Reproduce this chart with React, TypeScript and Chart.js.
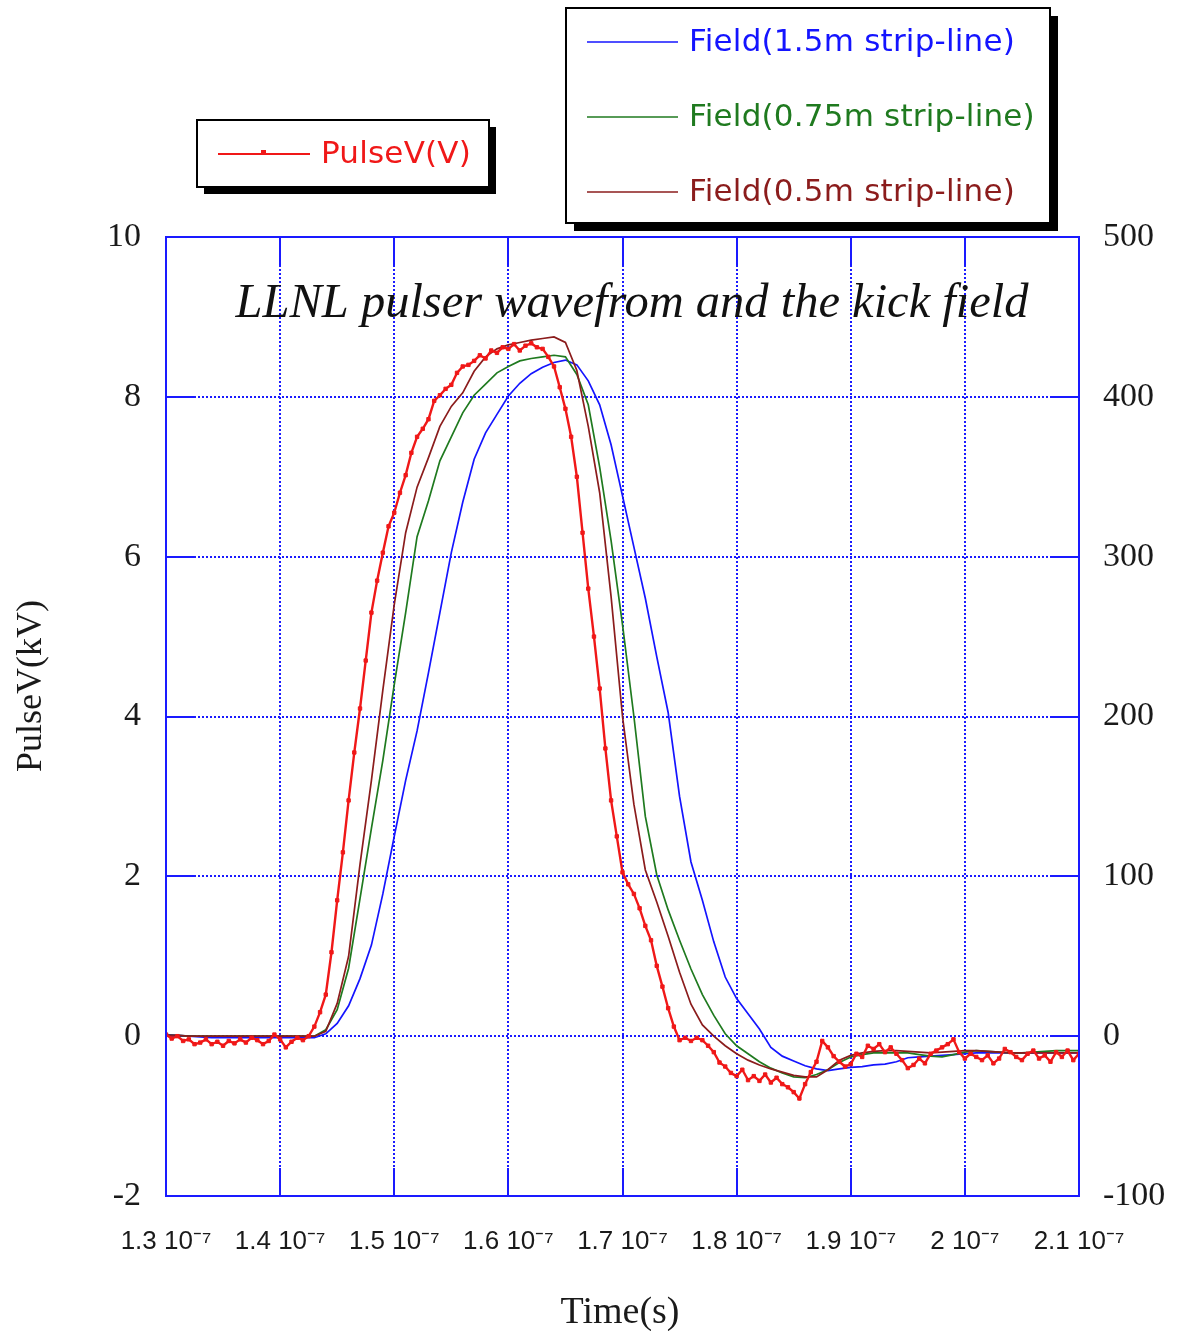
import { useEffect, useRef } from "react";
import { Chart, registerables } from "chart.js";

Chart.register(...registerables);

const CANVAS_W = 1178;
const CANVAS_H = 1331;

// Oscilloscope record of the pulser output, kV, sampled every 0.5 ns from 130 ns
const PULSE_START_NS = 130;
const PULSE_STEP_NS = 0.5;
const pulseKV = [
  0.02, -0.03, 0.0, -0.06, -0.04, -0.1, -0.08, -0.04, -0.1, -0.07,
  -0.12, -0.06, -0.09, -0.04, -0.08, -0.02, -0.05, -0.1, -0.06, 0.02,
  -0.04, -0.14, -0.07, -0.02, -0.05, 0.0, 0.12, 0.3, 0.52, 1.05,
  1.7, 2.3, 2.95, 3.55, 4.1, 4.7, 5.3, 5.7, 6.05, 6.38,
  6.55, 6.8, 7.02, 7.3, 7.5, 7.6, 7.72, 7.95, 8.02, 8.1,
  8.15, 8.3, 8.38, 8.4, 8.45, 8.52, 8.48, 8.58, 8.55, 8.62,
  8.6, 8.66, 8.58, 8.64, 8.67, 8.62, 8.6, 8.5, 8.38, 8.12,
  7.85, 7.5, 7.0, 6.3, 5.6, 5.0, 4.35, 3.6, 2.95, 2.5,
  2.05, 1.9, 1.78, 1.6, 1.38, 1.2, 0.88, 0.62, 0.35, 0.12,
  -0.05, -0.02, -0.06, -0.02, -0.05, -0.12, -0.2, -0.33, -0.38, -0.46,
  -0.5, -0.42, -0.55, -0.5, -0.56, -0.48, -0.58, -0.52, -0.6, -0.64,
  -0.7, -0.78, -0.6, -0.45, -0.32, -0.06, -0.14, -0.25, -0.32, -0.38,
  -0.35, -0.22, -0.26, -0.12, -0.16, -0.1, -0.2, -0.14, -0.22, -0.3,
  -0.4, -0.36, -0.28, -0.34, -0.22, -0.18, -0.14, -0.1, -0.04, -0.2,
  -0.28, -0.22, -0.26, -0.3, -0.24, -0.34, -0.28, -0.16, -0.2, -0.26,
  -0.3, -0.22, -0.18, -0.28, -0.24, -0.32, -0.2, -0.26, -0.18, -0.3,
  -0.22,
];

// Simulated kick field for three strip-line lengths, every 1 ns from 130 ns
const FIELD_START_NS = 130;
const FIELD_STEP_NS = 1;
const field150 = [
  1, 0.5, 0, -0.5, -1, -1, -1, -1, -1, -1,
  -1, -1, -1, -1, 1.5, 8, 19, 36, 57, 89,
  125, 160, 191, 227.5, 265, 302.5, 334, 361, 377.5, 389,
  400.5, 408.5, 414.5, 418.5, 421.5, 423, 420, 410, 395, 370,
  338, 306, 274, 237.5, 202.5, 150, 109, 85, 59, 37,
  23.5, 14, 4.5, -7, -12.5, -15.5, -18.5, -20.5, -21.5, -20.5,
  -19.5, -19, -18, -17.5, -16, -13.5, -13, -12.5, -12, -11.5,
  -11, -10.5, -10.5, -10.5, -10.5, -10.5, -10.5, -10.5, -10.5, -10.5,
  -10.5,
];
const field075 = [
  0.5, 0.5, 0, 0, 0, 0, 0, 0, 0, 0,
  0, 0, 0, 0, 4, 16.5, 42.5, 86, 130, 172.5,
  220, 265, 312.5, 335, 360, 375, 390, 401, 408, 415,
  419, 422.5, 424, 425, 426, 425, 414, 395, 356, 310,
  257.5, 200, 137.5, 101, 79, 60, 42, 26, 13, 1.5,
  -6, -11, -16, -20, -23, -25.5, -26, -24, -21, -16.5,
  -13, -11.5, -10.5, -10.5, -10.5, -10.5, -11.5, -12.5, -13, -11.5,
  -10, -9, -9.5, -10, -10.5, -10.5, -10, -9.5, -9, -9,
  -9,
];
const field050 = [
  0.5, 0.5, 0, 0, 0, 0, 0, 0, 0, 0,
  0, 0, 0, 0, 3, 20.5, 50, 107.5, 160, 216.5,
  270, 315, 343.5, 362, 381.5, 394, 402.5, 416, 425, 430,
  432.5, 434, 435.5, 436.5, 437.5, 434, 416.5, 381.5, 340, 275,
  200, 145, 104, 84, 62.5, 40, 20, 7, 0, -6,
  -11, -15, -18, -20.5, -22.5, -24.5, -25.5, -25.5, -21, -15,
  -12, -10.5, -9.5, -9, -9, -9.5, -10, -10.5, -10, -9.5,
  -9, -9, -9.5, -10, -10.5, -10.5, -10.5, -10.5, -10.5, -10.5,
  -10.5,
];

// Axis ranges and tick values
const TIME_MIN = 130;
const TIME_MAX = 210;
const TIME_STEP = 10;
const KV_MIN = -2;
const KV_MAX = 10;
const KV_STEP = 2;
const FIELD_MIN = -100;
const FIELD_MAX = 500;
const FIELD_STEP = 100;

const TITLE = "LLNL pulser wavefrom and the kick field";
const X_TITLE = "Time(s)";
const Y_TITLE = "PulseV(kV)";

const RED = "#f01818";
const BLUE = "#1414ff";
const GREEN = "#1f7a1f";
const DARK_RED = "#8b1c1c";
const FRAME_BLUE = "#1a1aff";
const TEXT = "#1a1a1a";

function toPoints(start: number, step: number, values: number[]) {
  return values.map((v, i) => ({ x: start + i * step, y: v }));
}

function timeLabel(v: number) {
  const mant = parseFloat((v / 100).toFixed(2)).toString();
  return `${mant} 10\u207B\u2077`;
}

const TICK_IN = 28;

function drawShadowBox(ctx: CanvasRenderingContext2D, x1: number, y1: number, x2: number, y2: number, off: number) {
  ctx.fillStyle = "#000";
  ctx.fillRect(x1 + off, y1 + off, x2 - x1, y2 - y1);
  ctx.fillStyle = "#fff";
  ctx.fillRect(x1, y1, x2 - x1, y2 - y1);
  ctx.strokeStyle = "#000";
  ctx.lineWidth = 2;
  ctx.strokeRect(x1, y1, x2 - x1, y2 - y1);
}

const framePlugin = {
  id: "scopeFrame",
  beforeDatasetsDraw(chart: any) {
    const { ctx, chartArea } = chart;
    const { left, right, top, bottom } = chartArea;
    const xs = chart.scales.x;
    const ys = chart.scales.y;
    ctx.save();
    // dotted interior grid
    ctx.strokeStyle = FRAME_BLUE;
    ctx.lineWidth = 2;
    ctx.setLineDash([2, 2]);
    xs.ticks.forEach((t: any) => {
      const px = Math.round(xs.getPixelForValue(t.value));
      if (t.value === TIME_MIN || t.value === TIME_MAX) return;
      ctx.beginPath();
      ctx.moveTo(px, top);
      ctx.lineTo(px, bottom);
      ctx.stroke();
    });
    ys.ticks.forEach((t: any) => {
      const py = Math.round(ys.getPixelForValue(t.value));
      if (t.value === KV_MIN || t.value === KV_MAX) return;
      ctx.beginPath();
      ctx.moveTo(left, py);
      ctx.lineTo(right, py);
      ctx.stroke();
    });
    // solid inward tick marks
    ctx.setLineDash([]);
    ctx.lineWidth = 2;
    xs.ticks.forEach((t: any) => {
      const px = Math.round(xs.getPixelForValue(t.value));
      ctx.beginPath();
      ctx.moveTo(px, bottom);
      ctx.lineTo(px, bottom - TICK_IN);
      ctx.moveTo(px, top);
      ctx.lineTo(px, top + TICK_IN);
      ctx.stroke();
    });
    ys.ticks.forEach((t: any) => {
      const py = Math.round(ys.getPixelForValue(t.value));
      ctx.beginPath();
      ctx.moveTo(left, py);
      ctx.lineTo(left + TICK_IN, py);
      ctx.moveTo(right, py);
      ctx.lineTo(right - TICK_IN, py);
      ctx.stroke();
    });
    // title inside the plot
    ctx.fillStyle = "#111";
    ctx.font = 'italic 48.5px "Liberation Serif"';
    ctx.textAlign = "center";
    ctx.textBaseline = "alphabetic";
    ctx.fillText(TITLE, 632, 317);
    ctx.restore();
  },
  afterDatasetsDraw(chart: any) {
    const { ctx, chartArea } = chart;
    const { left, right, top, bottom } = chartArea;
    ctx.save();
    ctx.strokeStyle = FRAME_BLUE;
    ctx.lineWidth = 2;
    ctx.strokeRect(left, top, right - left, bottom - top);
    ctx.restore();
  },
  afterDraw(chart: any) {
    const { ctx } = chart;
    const ds = chart.data.datasets;
    ctx.save();

    // axis titles
    ctx.fillStyle = TEXT;
    ctx.font = '38px "Liberation Serif"';
    ctx.textAlign = "center";
    ctx.textBaseline = "alphabetic";
    ctx.fillText(X_TITLE, 620, 1323);
    ctx.save();
    ctx.translate(41, 686);
    ctx.rotate(-Math.PI / 2);
    ctx.font = '36px "Liberation Serif"';
    ctx.fillText(Y_TITLE, 0, 0);
    ctx.restore();

    // pulse legend
    drawShadowBox(ctx, 197, 120, 489, 187, 7);
    const pulse = ds[0];
    ctx.strokeStyle = pulse.borderColor;
    ctx.lineWidth = 2;
    ctx.beginPath();
    ctx.moveTo(218, 154);
    ctx.lineTo(310, 154);
    ctx.stroke();
    ctx.fillStyle = pulse.borderColor;
    ctx.fillRect(261, 150, 5, 5);
    ctx.font = '31px "DejaVu Sans"';
    (ctx as any).letterSpacing = "0.2px";
    ctx.textAlign = "left";
    ctx.textBaseline = "middle";
    ctx.fillText(pulse.label, 321, 155);

    // field legend
    drawShadowBox(ctx, 566, 8, 1050, 223, 8);
    const rows = [ds[3], ds[2], ds[1]];
    const rowY = [42, 117, 192];
    rows.forEach((d: any, i: number) => {
      ctx.strokeStyle = d.borderColor;
      ctx.lineWidth = 1.6;
      ctx.beginPath();
      ctx.moveTo(587, rowY[i]);
      ctx.lineTo(678, rowY[i]);
      ctx.stroke();
      ctx.fillStyle = d.borderColor;
      ctx.fillText(d.label, 689, rowY[i] + 1);
    });
    ctx.restore();
  },
};

export default function App() {
  const canvasRef = useRef<HTMLCanvasElement | null>(null);

  useEffect(() => {
    const canvas = canvasRef.current;
    if (!canvas) return;
    const chart = new Chart(canvas, {
      type: "line",
      data: {
        datasets: [
          {
            label: "PulseV(V)",
            data: toPoints(PULSE_START_NS, PULSE_STEP_NS, pulseKV),
            yAxisID: "y",
            borderColor: RED,
            backgroundColor: RED,
            borderWidth: 2.4,
            pointRadius: 2.4,
            pointStyle: "rect",
            pointBorderWidth: 1,
            pointBorderColor: RED,
            pointBackgroundColor: RED,
            tension: 0,
            order: 0,
          },
          {
            label: "Field(0.5m strip-line)",
            data: toPoints(FIELD_START_NS, FIELD_STEP_NS, field050),
            yAxisID: "y2",
            borderColor: DARK_RED,
            borderWidth: 1.7,
            pointRadius: 0,
            tension: 0,
            order: 1,
          },
          {
            label: "Field(0.75m strip-line)",
            data: toPoints(FIELD_START_NS, FIELD_STEP_NS, field075),
            yAxisID: "y2",
            borderColor: GREEN,
            borderWidth: 1.7,
            pointRadius: 0,
            tension: 0,
            order: 2,
          },
          {
            label: "Field(1.5m strip-line)",
            data: toPoints(FIELD_START_NS, FIELD_STEP_NS, field150),
            yAxisID: "y2",
            borderColor: BLUE,
            borderWidth: 1.7,
            pointRadius: 0,
            tension: 0,
            order: 3,
          },
        ],
      },
      options: {
        animation: false,
        responsive: false,
        devicePixelRatio: 1,
        layout: { padding: { top: 237, left: 0, right: 0, bottom: 0 } },
        plugins: {
          legend: { display: false },
          tooltip: { enabled: false },
          title: { display: false },
        },
        scales: {
          x: {
            type: "linear",
            min: TIME_MIN,
            max: TIME_MAX,
            grid: { display: false },
            border: { display: false },
            ticks: {
              stepSize: TIME_STEP,
              autoSkip: false,
              maxRotation: 0,
              padding: 22,
              color: TEXT,
              font: { family: "Liberation Sans", size: 26 },
              callback: (v: any) => timeLabel(Number(v)),
            },
            afterFit: (s: any) => {
              s.height = 135;
            },
          },
          y: {
            type: "linear",
            position: "left",
            min: KV_MIN,
            max: KV_MAX,
            grid: { display: false },
            border: { display: false },
            ticks: {
              stepSize: KV_STEP,
              padding: 17,
              color: TEXT,
              font: { family: "Liberation Serif", size: 34 },
            },
            afterFit: (s: any) => {
              s.width = 166;
            },
          },
          y2: {
            type: "linear",
            position: "right",
            min: FIELD_MIN,
            max: FIELD_MAX,
            grid: { display: false },
            border: { display: false },
            ticks: {
              stepSize: FIELD_STEP,
              padding: 16,
              color: TEXT,
              font: { family: "Liberation Serif", size: 34 },
            },
            afterFit: (s: any) => {
              s.width = 99;
            },
          },
        },
      },
      plugins: [framePlugin],
    });
    return () => chart.destroy();
  }, []);

  return (
    <div style={{ position: "absolute", left: 0, top: 0, width: CANVAS_W, height: CANVAS_H, background: "#fff" }}>
      <canvas ref={canvasRef} width={CANVAS_W} height={CANVAS_H} style={{ display: "block" }} />
    </div>
  );
}
